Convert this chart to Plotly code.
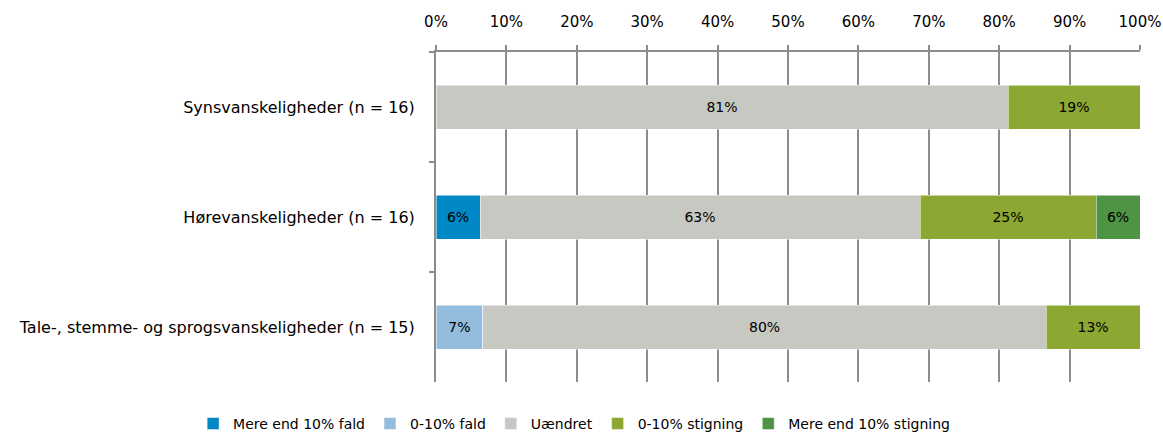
import plotly.graph_objects as go

categories = [
    "Synsvanskeligheder (n = 16)",
    "Hørevanskeligheder (n = 16)",
    "Tale-, stemme- og sprogsvanskeligheder (n = 15)",
]
series_names = ["Mere end 10% fald", "0-10% fald", "Uændret", "0-10% stigning", "Mere end 10% stigning"]
mere_fald = [0, 6.25, 0]
lille_fald = [0, 0, 6.67]
uaendret = [81.25, 62.5, 80.0]
lille_stigning = [18.75, 25.0, 13.33]
mere_stigning = [0, 6.25, 0]
colors = ["#0088C6", "#94BCDC", "#C8C8C2", "#8CA832", "#4E9444"]
x_ticks = list(range(0, 101, 10))

series = [mere_fald, lille_fald, uaendret, lille_stigning, mere_stigning]

font_family = "DejaVu Sans, Verdana, sans-serif"
grid_col = "#8C8C8C"
fig = go.Figure()
for name, vals, col in zip(series_names, series, colors):
    fig.add_trace(go.Bar(
        y=categories, x=vals, name=name, orientation="h",
        marker=dict(color=col, line=dict(color="white", width=0.5)),
        text=[f"{int(v + 0.5)}%" if v > 0 else "" for v in vals],
        textposition="inside", insidetextanchor="middle",
        textfont=dict(color="black", size=14, family=font_family),
        hoverinfo="x+y+name",
    ))

fig.update_layout(
    barmode="stack",
    bargap=0.6,
    width=1163, height=433,
    margin=dict(l=436, r=23, t=52, b=51, autoexpand=False),
    paper_bgcolor="white", plot_bgcolor="white",
    font=dict(family=font_family, size=15, color="black"),
    uniformtext=dict(mode="show", minsize=8),
    legend=dict(orientation="h", xref="paper", yref="paper", y=-0.127, yanchor="middle",
                x=-0.345, xanchor="left", font=dict(size=14),
                itemwidth=30, traceorder="normal"),
    xaxis=dict(side="top", range=[0, 100], tickvals=x_ticks,
               ticktext=[f"{v}%" for v in x_ticks],
               showgrid=True, gridcolor=grid_col, gridwidth=2,
               showline=True, linecolor=grid_col, linewidth=2,
               ticks="outside", ticklen=5, tickcolor=grid_col, tickwidth=2,
               tickfont=dict(size=15),
               ticklabelstandoff=12, zeroline=False, fixedrange=True, automargin=False),
    yaxis=dict(autorange="reversed", showline=True, linecolor=grid_col, linewidth=2,
               ticks="outside", tickson="boundaries", ticklen=5, tickcolor=grid_col, tickwidth=2,
               tickfont=dict(size=16),
               ticklabelstandoff=16, showgrid=False, fixedrange=True, automargin=False),
)
fig.write_html("out.html")
